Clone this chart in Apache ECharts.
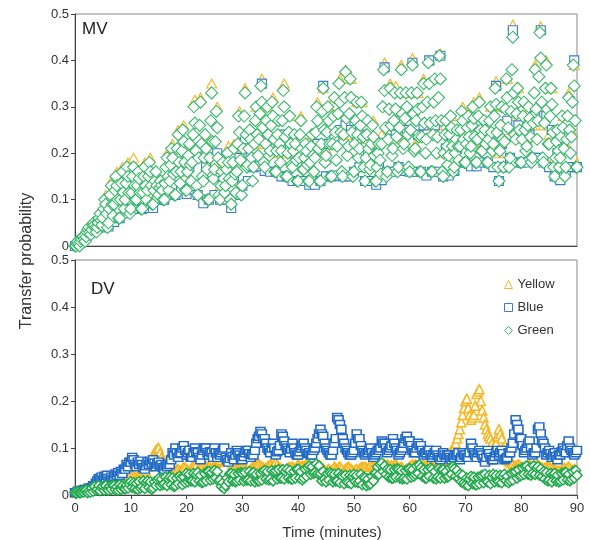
<!DOCTYPE html>
<html>
<head>
<meta charset="utf-8">
<script src="https://cdn.jsdelivr.net/npm/echarts@6/dist/echarts.min.js"></script>
<style>html,body{margin:0;padding:0;background:#fff;}#c{width:590px;height:540px;}</style>
</head>
<body>
<div id="c"></div>
<script>
// ---- Data ----
const seriesNames = ['Yellow', 'Blue', 'Green'];
const xTicks = [0, 10, 20, 30, 40, 50, 60, 70, 80, 90];
const yTicks = [0, 0.1, 0.2, 0.3, 0.4, 0.5];

// sampling interval (minutes) of each stored series
const steps = {
  mvYellow: 0.5, mvBlue: 0.5, mvGreen: 1 / 6,
  dvYellow: 0.25, dvBlue: 0.25, dvGreen: 0.25
};

// MV panel (top)
const mvYellow = [
0,.01, .015,.02, .03,.04, .04,.05, .05,.07, .07,.11, .08,.14, .10,.16, .10,.17, .11,.18,
.12,.19, .12,.16, .12,.18, .13,.19, .12,.16, .12,.14, .14,.20, .15,.22, .16,.25, .17,.26,
.16,.22, .19,.315, .19,.32, .15,.24, .19,.35, .18,.30, .13,.18, .14,.215, .14,.22, .18,.29,
.21,.34, .19,.25, .22,.30, .25,.36, .22,.30, .23,.32, .20,.27, .24,.35, .20,.28, .18,.24,
.19,.28, .17,.22, .18,.24, .20,.31, .22,.34, .21,.30, .22,.32, .24,.36, .24,.38, .24,.36,
.22,.31, .23,.31, .19,.27, .19,.27, .17,.22, .24,.395, .23,.35, .23,.345, .25,.39, .23,.33,
.25,.405, .22,.33, .24,.36, .25,.40, .24,.36, .26,.415, .20,.27, .21,.28, .20,.25, .22,.30,
.22,.29, .23,.31, .23,.32, .22,.27, .23,.30, .24,.355, .20,.30, .25,.36, .28,.477, .24,.34,
.23,.31, .23,.30, .26,.39, .30,.473, .26,.40, .24,.34, .19,.25, .20,.28, .22,.33, .25,.39,
.18];
const mvBlue = [
0,.005, .01,.015, .02,.03, .03,.04, .04,.055, .04,.07, .042,.09, .052,.11, .06,.11, .07,.12,
.08,.125, .08,.12, .08,.125, .082,.135, .082,.125, .10,.12, .10,.14, .11,.16, .11,.17, .12,.18,
.112,.17, .122,.21, .11,.21, .092,.17, .10,.21, .11,.20, .10,.14, .10,.15, .082,.15, .11,.19,
.13,.23, .14,.19, .17,.23, .172,.35, .162,.23, .16,.23, .16,.21, .15,.24, .15,.21, .14,.19,
.14,.20, .14,.18, .132,.19, .132,.22, .14,.345, .15,.22, .15,.23, .152,.25, .15,.26, .15,.25,
.16,.23, .17,.24, .14,.20, .14,.20, .132,.18, .142,.385, .16,.25, .16,.24, .17,.27, .162,.25,
.16,.395, .16,.24, .16,.26, .152,.40, .16,.26, .16,.41, .15,.21, .152,.22, .162,.21, .18,.23,
.18,.23, .172,.24, .172,.25, .18,.22, .18,.24, .17,.345, .14,.22, .17,.27, .19,.465, .18,.26,
.18,.24, .18,.24, .19,.28, .19,.465, .18,.28, .17,.25, .15,.20, .142,.21, .162,.24, .17,.40,
.17];
const mvGreen = [
0,0,.005,.01,.005,0, .01,.015,.02,.02,.015,.01, .02,.03,.035,.04,.03,.025, .035,.045,.05,.045,.04,.03,
.04,.05,.06,.07,.055,.045, .06,.08,.10,.09,.07,.04, .05,.08,.11,.13,.09,.065, .09,.12,.15,.13,.10,.06,
.06,.10,.135,.16,.115,.08, .10,.135,.17,.15,.115,.07, .08,.115,.15,.17,.13,.10, .10,.13,.16,.145,.115,.08,
.08,.115,.15,.17,.13,.10, .12,.15,.18,.16,.13,.09, .09,.12,.14,.16,.13,.105, .11,.125,.14,.13,.12,.10,
.10,.135,.17,.19,.15,.12, .14,.175,.21,.19,.155,.11, .11,.16,.21,.24,.18,.135, .16,.205,.25,.225,.18,.12,
.12,.16,.195,.22,.175,.14, .18,.24,.30,.265,.205,.13, .11,.19,.26,.31,.22,.15, .14,.19,.24,.21,.165,.10,
.10,.19,.27,.33,.225,.145, .165,.225,.29,.255,.19,.11, .10,.13,.16,.18,.145,.115, .13,.165,.20,.18,.145,.10,
.09,.14,.18,.21,.155,.115, .16,.22,.28,.245,.185,.11, .13,.21,.28,.33,.24,.17, .175,.21,.25,.23,.19,.14,
.17,.22,.27,.30,.24,.195, .23,.285,.345,.31,.255,.18, .17,.22,.27,.30,.24,.195, .205,.26,.31,.28,.23,.16,
.16,.205,.24,.27,.22,.18, .205,.27,.335,.30,.235,.15, .15,.20,.245,.28,.22,.175, .17,.205,.24,.22,.185,.14,
.14,.19,.24,.27,.21,.165, .165,.19,.22,.205,.175,.14, .14,.18,.215,.24,.195,.16, .19,.245,.30,.27,.21,.14,
.14,.22,.29,.34,.25,.18, .195,.245,.30,.27,.22,.15, .15,.22,.28,.32,.245,.185, .215,.285,.35,.31,.245,.16,
.15,.24,.32,.375,.275,.195, .215,.285,.36,.32,.245,.15, .16,.22,.27,.31,.24,.19, .21,.26,.31,.28,.235,.17,
.14,.19,.24,.27,.21,.165, .175,.22,.26,.235,.195,.14, .14,.17,.20,.22,.185,.155, .22,.30,.38,.335,.255,.15,
.16,.23,.295,.34,.26,.195, .21,.27,.33,.295,.235,.16, .17,.255,.33,.38,.285,.21, .22,.275,.33,.30,.24,.17,
.16,.25,.33,.39,.285,.205, .21,.27,.33,.295,.235,.16, .16,.235,.30,.35,.265,.20, .23,.31,.395,.35,.265,.16,
.16,.24,.31,.36,.27,.20, .235,.32,.41,.36,.27,.16, .15,.20,.24,.27,.215,.175, .195,.24,.28,.255,.215,.16,
.17,.20,.23,.25,.215,.185, .215,.25,.29,.27,.23,.18, .18,.22,.255,.28,.235,.20, .215,.26,.30,.275,.235,.18,
.18,.23,.28,.31,.25,.205, .205,.24,.27,.25,.22,.18, .18,.23,.27,.30,.245,.205, .22,.28,.34,.305,.245,.17,
.14,.205,.26,.30,.23,.17, .225,.295,.36,.32,.255,.17, .19,.29,.38,.45,.33,.24, .23,.285,.34,.31,.25,.18,
.18,.23,.28,.31,.25,.205, .215,.26,.30,.275,.235,.18, .19,.265,.33,.38,.295,.23, .27,.365,.46,.405,.31,.19,
.18,.265,.34,.39,.295,.22, .22,.28,.34,.305,.245,.17, .15,.19,.225,.25,.205,.17, .19,.235,.28,.255,.21,.15,
.17,.23,.28,.32,.25,.20, .235,.31,.39,.345,.27,.17,
.17];

// DV panel (bottom)
const dvYellow = [
.005,.006,.008,.009, .01,.01,.01,.011, .012,.014,.015,.016, .018,.019,.02,.02, .02,.023,.025,.024,
.025,.028,.03,.029, .028,.03,.03,.033, .035,.038,.04,.043, .045,.048,.05,.045, .04,.046,.05,.047,
.045,.042,.04,.038, .035,.04,.045,.048, .05,.047,.045,.052, .06,.066,.07,.078, .085,.09,.095,.098,
.10,.09,.08,.075, .07,.068,.065,.062, .06,.058,.055,.052, .05,.053,.055,.052, .05,.056,.06,.058,
.055,.052,.05,.053, .06,.062,.065,.063, .055,.058,.06,.058, .065,.062,.06,.058, .06,.057,.055,.058,
.065,.068,.07,.072, .075,.08,.085,.09, .095,.09,.085,.078, .07,.065,.06,.057, .055,.058,.06,.058,
.06,.057,.055,.053, .05,.052,.055,.058, .06,.063,.065,.066, .065,.062,.06,.058, .055,.058,.06,.062,
.065,.062,.06,.065, .07,.065,.06,.058, .055,.052,.05,.053, .055,.058,.06,.058, .06,.057,.055,.06,
.065,.062,.06,.062, .06,.063,.065,.062, .055,.058,.06,.058, .06,.063,.065,.062, .06,.058,.055,.052,
.05,.053,.055,.052, .05,.055,.06,.057, .055,.058,.06,.056, .05,.053,.055,.058, .06,.057,.055,.052,
.05,.053,.055,.052, .055,.058,.06,.058, .06,.057,.055,.06, .065,.062,.06,.058, .06,.057,.055,.058,
.06,.063,.065,.062, .065,.062,.06,.063, .06,.063,.065,.062, .055,.058,.06,.057, .05,.053,.055,.058,
.06,.063,.065,.062, .065,.062,.06,.063, .06,.063,.065,.062, .06,.063,.065,.062, .06,.065,.07,.073,
.075,.072,.07,.073, .08,.077,.075,.08, .085,.09,.095,.098, .10,.11,.12,.13, .14,.155,.17,.185,
.20,.205,.185,.17, .16,.165,.17,.19, .215,.22,.225,.20, .18,.165,.15,.14, .13,.125,.12,.11,
.10,.105,.11,.125, .14,.13,.12,.10, .09,.08,.075,.072, .07,.068,.065,.062, .06,.063,.065,.062,
.06,.058,.055,.058, .06,.063,.065,.062, .055,.058,.06,.062, .065,.062,.06,.058, .055,.058,.06,.058,
.06,.058,.055,.053, .055,.052,.05,.052, .05,.053,.055,.058, .055,.058,.06,.057, .05,.053,.055,.052,
.05];
const dvBlue = [
.005,.005,.008,.006, .008,.01,.009,.012, .01,.012,.015,.012, .015,.02,.018,.025, .03,.035,.032,.038,
.032,.04,.036,.042, .035,.03,.038,.033, .04,.045,.042,.048, .042,.05,.046,.055, .055,.065,.06,.07,
.07,.08,.075,.065, .06,.07,.065,.072, .065,.058,.055,.062, .07,.065,.072,.068, .075,.068,.06,.066,
.07,.062,.065,.058, .055,.062,.06,.065, .065,.075,.09,.085, .10,.09,.08,.088, .09,.10,.105,.095,
.085,.09,.095,.08, .08,.09,.10,.092, .09,.08,.075,.085, .095,.10,.10,.09, .085,.092,.09,.08,
.10,.09,.08,.088, .085,.09,.095,.10, .08,.075,.07,.078, .09,.082,.075,.085, .095,.09,.085,.078,
.075,.082,.09,.095, .095,.088,.08,.086, .085,.095,.11,.12, .125,.135,.13,.12, .12,.11,.10,.095,
.09,.10,.11,.10, .085,.092,.095,.105, .13,.125,.115,.105, .10,.095,.09,.098, .11,.10,.09,.085,
.085,.092,.10,.105, .11,.10,.095,.088, .09,.085,.085,.095, .10,.11,.12,.13, .14,.13,.125,.11,
.10,.095,.09,.085, .085,.095,.11,.12, .165,.16,.15,.14, .12,.11,.10,.095, .09,.085,.085,.09,
.095,.11,.13,.12, .12,.105,.095,.09, .085,.09,.09,.095, .10,.09,.08,.085, .09,.095,.095,.10,
.115,.11,.11,.10, .09,.095,.10,.105, .12,.11,.10,.095, .085,.09,.095,.10, .11,.12,.125,.115,
.115,.105,.095,.09, .09,.10,.11,.105, .105,.095,.085,.09, .09,.095,.095,.085, .08,.085,.09,.095,
.085,.08,.075,.08, .09,.085,.08,.085, .085,.08,.075,.08, .08,.085,.085,.09, .075,.08,.09,.085,
.085,.08,.08,.09, .11,.10,.09,.085, .08,.09,.095,.09, .085,.078,.07,.08, .095,.088,.08,.075,
.075,.082,.09,.095, .085,.09,.095,.088, .075,.078,.08,.09, .09,.10,.11,.13, .16,.15,.14,.12,
.12,.105,.09,.095, .10,.11,.115,.10, .085,.09,.09,.10, .14,.145,.13,.115, .11,.10,.085,.09,
.095,.088,.08,.085, .09,.082,.075,.085, .085,.092,.10,.095, .09,.105,.115,.10, .095,.09,.085,.09,
.095];
const dvGreen = [
.006,.004,.007,.005, .005,.008,.006,.009, .01,.005,.009,.006, .015,.008,.018,.01, .012,.02,.009,.016,
.018,.01,.02,.012, .01,.019,.012,.021, .02,.011,.018,.01, .022,.012,.02,.014, .013,.022,.015,.024,
.028,.016,.026,.014, .025,.012,.028,.015, .018,.03,.014,.027, .03,.016,.028,.012, .015,.028,.02,.032,
.035,.02,.034,.022, .024,.038,.02,.034, .038,.022,.036,.018, .02,.036,.024,.04, .036,.022,.038,.026,
.046,.028,.044,.03, .03,.046,.028,.044, .048,.03,.042,.026, .028,.046,.03,.05, .05,.032,.048,.034,
.052,.036,.05,.03, .032,.018,.026,.014, .02,.036,.028,.045, .046,.03,.044,.028, .03,.046,.032,.048,
.046,.03,.048,.032, .032,.05,.03,.046, .048,.028,.044,.03, .03,.046,.032,.05, .052,.034,.05,.032,
.034,.052,.03,.05, .052,.034,.054,.036, .036,.054,.034,.05, .055,.036,.052,.034, .034,.05,.036,.054,
.055,.036,.05,.032, .036,.055,.04,.058, .062,.044,.06,.046, .048,.066,.046,.062, .046,.03,.05,.034,
.028,.046,.032,.048, .045,.028,.044,.03, .03,.046,.026,.042, .04,.024,.042,.028, .026,.042,.024,.04,
.044,.028,.042,.026, .03,.044,.022,.038, .036,.02,.034,.022, .024,.04,.03,.046, .048,.06,.044,.065,
.068,.05,.062,.044, .055,.038,.054,.036, .036,.054,.038,.056, .054,.036,.052,.034, .036,.052,.034,.055,
.056,.038,.054,.04, .044,.062,.046,.064, .058,.04,.054,.036, .036,.054,.04,.058, .055,.036,.05,.034,
.038,.056,.036,.054, .054,.036,.05,.038, .04,.058,.044,.06, .056,.04,.052,.036, .044,.028,.042,.026,
.022,.036,.02,.034, .04,.024,.038,.022, .022,.038,.024,.04, .042,.026,.044,.03, .028,.042,.024,.038,
.044,.028,.042,.03, .028,.042,.026,.04, .044,.03,.04,.026, .03,.046,.032,.048, .05,.036,.054,.04,
.042,.058,.044,.06, .062,.044,.058,.042, .046,.062,.044,.058, .06,.042,.056,.04, .05,.034,.048,.03,
.032,.046,.028,.044, .046,.03,.042,.028, .03,.046,.032,.048, .048,.032,.044,.03, .034,.05,.036,.052,
.042];

// ---- Chart ----
const colorsMV = { Yellow: '#F7B52A', Blue: '#3A7DCB', Green: '#38B86A' };
const colorsDV = { Yellow: '#F8B61E', Blue: '#216BC6', Green: '#24AA4E' };
const symbols = { Yellow: 'triangle', Blue: 'rect', Green: 'diamond' };
const FONT = '"Liberation Sans", Arial, sans-serif';

function pairs(arr, step) { return arr.map((v, i) => [i * step, v]); }

const mvData = { Yellow: [mvYellow, steps.mvYellow], Blue: [mvBlue, steps.mvBlue], Green: [mvGreen, steps.mvGreen] };
const dvData = { Yellow: [dvYellow, steps.dvYellow], Blue: [dvBlue, steps.dvBlue], Green: [dvGreen, steps.dvGreen] };
const mvSize = { Yellow: [10, 9], Blue: [9, 9], Green: [12, 12] };
const dvSize = { Yellow: [9, 9], Blue: [9, 8], Green: [10, 10] };

const series = [];
seriesNames.forEach(n => {
  series.push({
    name: n, type: 'scatter', xAxisIndex: 0, yAxisIndex: 0,
    symbol: symbols[n], symbolSize: mvSize[n], large: false,
    itemStyle: { color: '#fff', borderColor: colorsMV[n], borderWidth: 1.1, opacity: 1 },
    data: pairs(mvData[n][0], mvData[n][1]), animation: false, silent: true
  });
});
seriesNames.forEach(n => {
  series.push({
    name: n, type: 'scatter', xAxisIndex: 1, yAxisIndex: 1,
    symbol: symbols[n], symbolSize: dvSize[n], large: false,
    itemStyle: { color: '#fff', borderColor: colorsDV[n], borderWidth: 1.5, opacity: 1 },
    data: pairs(dvData[n][0], dvData[n][1]), animation: false, silent: true
  });
});

const fmt = v => String(+v.toFixed(1));
function xAx(gi, showLabels) {
  return {
    gridIndex: gi, type: 'value', min: xTicks[0], max: xTicks[xTicks.length - 1],
    interval: xTicks[1] - xTicks[0],
    axisLine: { show: true, onZero: false, lineStyle: { color: '#444', width: 1 } },
    axisTick: { show: showLabels, length: 4, lineStyle: { color: '#444' } },
    axisLabel: { show: showLabels, fontSize: 13, color: '#333', margin: 7, fontFamily: FONT },
    splitLine: { show: false }
  };
}
function yAx(gi) {
  return {
    gridIndex: gi, type: 'value', min: yTicks[0], max: yTicks[yTicks.length - 1],
    interval: yTicks[1] - yTicks[0],
    axisLine: { show: true, lineStyle: { color: '#444', width: 1 } },
    axisTick: { show: true, length: 4, lineStyle: { color: '#444' } },
    axisLabel: { fontSize: 13, color: '#333', margin: 6, formatter: fmt, fontFamily: FONT },
    splitLine: { show: false }
  };
}

const chart = echarts.init(document.getElementById('c'), null, { renderer: 'canvas' });
chart.setOption({
  animation: false,
  backgroundColor: '#fff',
  textStyle: { fontFamily: FONT },
  grid: [
    { left: 75, top: 14, width: 502, height: 232, show: true, borderColor: '#888', borderWidth: 1, backgroundColor: 'transparent' },
    { left: 75, top: 260, width: 502, height: 235, show: true, borderColor: '#888', borderWidth: 1, backgroundColor: 'transparent' }
  ],
  xAxis: [xAx(0, false), xAx(1, true)],
  yAxis: [yAx(0), yAx(1)],
  legend: {
    orient: 'vertical', left: 499, top: 273, itemGap: 10, itemWidth: 8, itemHeight: 8,
    textStyle: { fontSize: 13, color: '#333', fontFamily: FONT },
    data: seriesNames.map(n => ({ name: n, icon: symbols[n], itemStyle: { color: '#fff', borderColor: colorsMV[n], borderWidth: 1 } })),
    selectedMode: false
  },
  graphic: [
    { type: 'text', left: 82, top: 21, style: { text: 'MV', fontSize: 17, fill: '#222', fontFamily: FONT } },
    { type: 'text', left: 91, top: 281, style: { text: 'DV', fontSize: 17, fill: '#222', fontFamily: FONT } },
    { type: 'text', x: 27, y: 261, rotation: Math.PI / 2,
      style: { text: 'Transfer probability', fontSize: 16, fill: '#333', fontFamily: FONT,
               align: 'center', verticalAlign: 'middle', textAlign: 'center', textVerticalAlign: 'middle' } },
    { type: 'text', x: 332, y: 533,
      style: { text: 'Time (minutes)', fontSize: 15, fill: '#333', fontFamily: FONT,
               align: 'center', verticalAlign: 'middle', textAlign: 'center', textVerticalAlign: 'middle' } }
  ],
  series: series
});
</script>
</body>
</html>
